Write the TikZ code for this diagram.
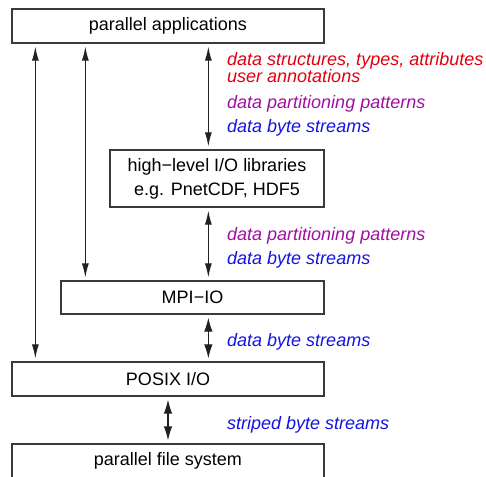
\documentclass[tikz,border=0pt]{standalone}
\usepackage{fontspec}
\setmainfont{Liberation Sans}
\usetikzlibrary{arrows.meta}
\definecolor{lblred}{HTML}{E00010}
\definecolor{lblpurple}{HTML}{A010A0}
\definecolor{lblblue}{HTML}{1414E0}
\definecolor{boxline}{HTML}{3A3A3A}
\definecolor{arrline}{HTML}{222222}
\tikzset{
  layer/.style={draw=boxline, line width=1.3pt, inner sep=0pt, fill=white,
    font=\fontsize{18}{24}\selectfont, align=center},
  flow/.style={arrline, line width=1.1pt,
    {Latex[length=14pt,width=7pt]}-{Latex[length=14pt,width=7pt]},
    shorten <=3pt, shorten >=3pt},
  flowbig/.style={flow, {Latex[length=14pt,width=8.5pt]}-{Latex[length=14pt,width=8.5pt]}},
  lbl/.style={anchor=base west, inner sep=0pt,
    font=\fontsize{18}{17}\selectfont\itshape, align=left}
}
\begin{document}
\begin{tikzpicture}[x=1pt, y=-1pt]
\useasboundingbox (0,0) rectangle (486,476);
\clip (0,0) rectangle (486,476);

% software layers
\node[layer, minimum width=312pt, minimum height=34pt] (app) at (168,26) {parallel applications};
\node[layer, minimum width=214pt, minimum height=57pt] (hl) at (217,178.5)
  {high−level I/O libraries\\e.g. PnetCDF, HDF5};
\node[layer, minimum width=263pt, minimum height=33pt] (mpi) at (192.5,297.5) {MPI−IO};
\node[layer, minimum width=312pt, minimum height=34pt] (posix) at (168,379) {POSIX I/O};
\node[layer, minimum width=312pt, minimum height=34pt] (fs) at (168,461) {parallel file system};

% data paths between layers
\draw[flow] ([xshift=24pt]app.south west) -- ([xshift=24pt]posix.north west);
\draw[flow] ([xshift=74pt]app.south west) -- ([xshift=25pt]mpi.north west);
\draw[flow] ([xshift=197pt]app.south west) -- ([xshift=99pt]hl.north west);
\draw[flow] ([xshift=99pt]hl.south west) -- ([xshift=148pt]mpi.north west);
\draw[flowbig] ([xshift=148pt]mpi.south west) -- ([xshift=197pt]posix.north west);
\draw[flowbig] (posix.south) -- (fs.north);

% what travels along each path
\node[lbl, text=lblred] (l1) at (227,65.5) {data structures, types, attributes};
\node[lbl, text=lblred] (l2) at (227,82.5) {user annotations};
\node[lbl, text=lblpurple] (l3) at (227,108) {data partitioning patterns};
\node[lbl, text=lblblue] (l4) at (227,132) {data byte streams};
\node[lbl, text=lblpurple] (l5) at (227,240) {data partitioning patterns};
\node[lbl, text=lblblue] (l6) at (227,264) {data byte streams};
\node[lbl, text=lblblue] (l7) at (227,346.5) {data byte streams};
\node[lbl, text=lblblue] (l8) at (227,429) {striped byte streams};
\end{tikzpicture}
\end{document}
